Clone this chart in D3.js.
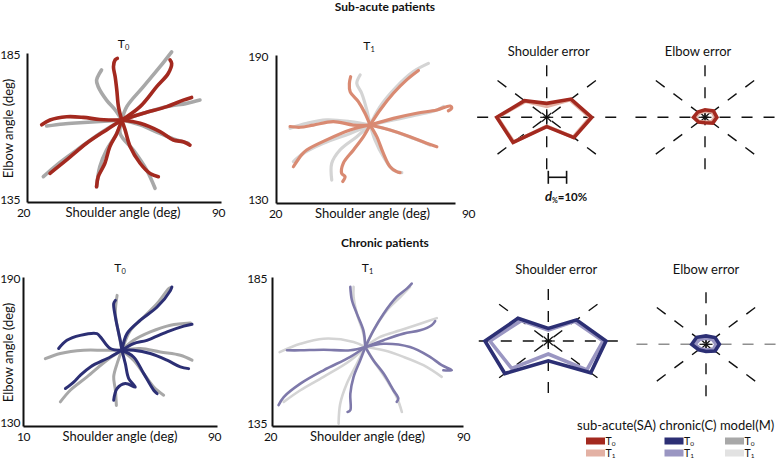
<!DOCTYPE html>
<html><head><meta charset="utf-8">
<script src="https://cdn.jsdelivr.net/npm/d3@7"></script>
<style>body{margin:0;background:#fff}svg{display:block}text{font-family:Lato,"Open Sans",sans-serif;fill:#111}</style>
</head><body><svg id="c" width="778" height="459"></svg>
<script>
// ---------- trajectory data: [shoulder angle (deg), elbow angle (deg)] ----------
const saT0Patient = [
 [[54.2,162.5],[53.0,167.0],[52.4,172.6],[51.8,177.1],[51.2,180.4],[51.8,182.7],[52.6,183.2]],
 [[54.2,162.5],[60.8,167.0],[66.8,173.7],[71.0,178.2],[72.2,181.5],[71.6,182.7]],
 [[54.2,162.5],[62.0,164.8],[70.4,167.0],[76.4,169.2],[79.4,170.1]],
 [[54.2,162.5],[60.8,161.4],[68.0,158.6],[72.8,155.8],[76.4,155.2],[78.8,154.1]],
 [[54.2,162.5],[55.4,159.2],[57.2,153.6],[60.8,148.0],[64.4,144.6],[67.4,143.5]],
 [[54.2,162.5],[52.4,158.0],[49.9,153.6],[48.1,148.0],[45.7,143.5],[45.1,140.1]],
 [[54.2,162.5],[48.7,159.2],[41.5,154.7],[34.3,149.1],[28.3,144.6]],
 [[54.2,162.5],[46.3,162.7],[40.3,163.4],[34.3,163.6],[28.3,162.5],[25.3,160.9]]
];
const saT0Model = [
 [[54.2,162.5],[51.8,165.9],[48.7,169.2],[45.7,173.7],[45.1,175.9],[46.9,179.3]],
 [[54.2,162.5],[56.0,167.0],[62.0,173.7],[68.0,180.4],[72.2,185.4]],
 [[54.2,162.5],[62.0,164.8],[70.4,167.0],[77.6,168.1],[82.4,169.2]],
 [[54.2,162.5],[60.8,160.9],[68.0,158.0],[74.0,155.8],[78.2,154.7]],
 [[54.2,162.5],[53.6,158.0],[58.4,152.4],[63.2,145.7],[66.2,139.6]],
 [[54.2,162.5],[52.4,158.0],[48.7,152.4],[46.3,146.9],[45.1,140.1]],
 [[54.2,162.5],[46.3,158.0],[37.9,152.4],[30.7,147.4],[25.9,143.5]],
 [[54.2,162.5],[46.3,162.0],[39.1,161.6],[33.1,161.2],[27.1,160.5]]
];
const saT1Patient = [
 [[56.8,161.6],[54.8,166.4],[52.2,171.1],[49.0,175.1],[48.7,178.5],[49.2,181.2]],
 [[56.8,161.6],[60.7,167.7],[65.9,174.5],[71.1,179.9],[75.7,183.7]],
 [[56.8,161.6],[65.9,164.3],[75.0,166.4],[82.9,167.7],[88.1,169.3],[88.7,168.4],[87.4,167.4]],
 [[56.8,161.6],[64.6,159.6],[72.4,156.9],[78.9,154.2],[82.9,152.8]],
 [[56.8,161.6],[59.4,156.9],[62.0,150.1],[64.6,144.7],[67.2,142.7],[68.5,142.3]],
 [[56.8,161.6],[54.2,156.9],[50.3,151.5],[46.3,146.1],[45.7,142.0],[47.0,140.7],[46.1,138.7]],
 [[56.8,161.6],[49.0,159.6],[39.8,155.6],[32.0,151.5],[30.0,149.5],[26.8,144.7]],
 [[56.8,161.6],[50.3,161.6],[42.4,163.0],[34.6,161.6],[29.4,160.7],[25.5,161.0]]
];
const saT1Model = [
 [[56.8,161.6],[55.5,167.7],[53.5,174.5],[51.6,178.5],[52.9,181.9]],
 [[56.8,161.6],[60.7,169.1],[67.2,177.2],[73.7,183.3],[79.6,186.6]],
 [[56.8,161.6],[65.9,163.7],[75.0,165.7],[82.9,167.7],[85.5,169.1]],
 [[56.8,161.6],[64.6,159.6],[73.7,156.2],[80.2,153.5]],
 [[56.8,161.6],[58.7,155.6],[62.0,148.8],[65.9,143.4],[69.2,142.3]],
 [[56.8,161.6],[51.6,156.9],[45.0,151.5],[41.8,146.1],[41.8,139.3]],
 [[56.8,161.6],[49.0,158.2],[38.5,154.2],[30.7,150.1],[26.8,146.8]],
 [[56.8,161.6],[49.0,163.0],[39.8,163.7],[32.0,162.3],[25.5,160.3]]
];
const cT0Patient = [
 [[50.8,160.5],[50.1,164.5],[49.5,167.2],[48.1,173.9],[47.4,179.3],[48.1,180.6]],
 [[50.8,160.5],[52.9,167.2],[58.4,172.6],[65.3,177.9],[70.8,184.6],[71.4,186.0]],
 [[50.8,160.5],[55.6,163.2],[61.1,164.5],[69.4,167.9],[76.3,170.2],[79.7,171.0]],
 [[50.8,160.5],[55.6,160.5],[62.5,159.2],[69.4,156.5],[74.9,153.8],[78.3,153.1]],
 [[50.8,160.5],[55.6,157.8],[59.8,151.1],[63.9,144.4],[65.3,143.0]],
 [[50.8,160.5],[52.2,155.1],[53.6,149.1],[56.3,145.7],[52.2,147.1],[48.8,145.1],[47.4,140.4]],
 [[50.8,160.5],[46.0,157.8],[37.8,153.8],[33.6,150.4],[30.9,147.7],[27.5,145.1]],
 [[50.8,160.5],[46.0,161.2],[41.9,165.9],[40.5,167.2],[33.6,166.5],[28.1,164.5],[24.7,161.2]]
];
const cT0Model = [
 [[50.8,160.5],[49.5,167.2],[48.1,175.2],[48.8,182.6]],
 [[50.8,160.5],[54.3,168.5],[59.8,173.9],[65.3,179.3],[70.1,185.3],[70.8,185.7]],
 [[50.8,160.5],[55.6,164.5],[62.5,167.9],[70.8,170.6],[79.0,171.5]],
 [[50.8,160.5],[58.4,161.2],[66.6,159.8],[74.9,158.5],[79.7,156.5]],
 [[50.8,160.5],[55.6,156.5],[59.8,151.1],[63.9,145.7],[68.0,142.4]],
 [[50.8,160.5],[48.8,155.1],[47.4,149.8],[48.1,144.4],[48.5,138.3]],
 [[50.8,160.5],[44.6,156.5],[36.4,149.8],[29.5,144.4],[25.4,139.7]],
 [[50.8,160.5],[43.3,160.5],[35.0,160.5],[25.4,159.2],[19.2,157.1]]
];
const cT1Patient = [
 [[54.2,161.5],[53.5,167.1],[51.1,172.7],[49.3,177.2],[48.7,181.7]],
 [[54.2,161.5],[57.2,167.1],[60.9,172.7],[65.7,178.3],[69.4,181.1],[71.2,182.8]],
 [[54.2,161.5],[60.9,163.8],[68.2,166.0],[74.3,167.1],[78.5,168.8],[79.8,170.2]],
 [[54.2,161.5],[60.9,162.6],[70.6,161.5],[77.9,158.2],[82.2,155.4],[85.9,153.7],[82.8,153.7]],
 [[54.2,161.5],[57.2,157.0],[60.9,152.6],[64.5,147.0],[66.3,144.2],[65.7,143.1]],
 [[54.2,161.5],[52.3,157.0],[49.9,151.5],[48.7,145.8],[48.7,140.3],[47.7,139.7]],
 [[54.2,161.5],[48.7,158.2],[38.9,153.7],[30.4,149.2],[24.3,144.7],[22.4,142.0]],
 [[54.2,161.5],[48.7,160.4],[38.9,160.6],[30.4,160.4],[25.5,160.4]]
];
const cT1Model = [
 [[54.2,161.5],[53.5,166.0],[51.1,172.7],[49.9,178.3],[49.9,181.7]],
 [[54.2,161.5],[57.2,167.1],[62.1,173.8],[67.0,178.3],[70.6,181.7]],
 [[54.2,161.5],[59.6,164.9],[67.0,167.1],[74.3,169.3],[80.4,171.2]],
 [[54.2,161.5],[60.9,160.4],[68.2,158.2],[75.5,155.4],[82.2,151.5]],
 [[54.2,161.5],[57.2,157.0],[62.1,150.3],[65.7,144.7],[67.6,139.7]],
 [[54.2,161.5],[51.1,155.9],[47.4,149.2],[45.0,142.5],[44.4,135.8]],
 [[54.2,161.5],[48.7,157.0],[38.9,151.5],[30.4,147.0],[24.3,143.1]],
 [[54.2,161.5],[49.9,163.2],[38.9,164.3],[30.4,162.6],[22.8,159.8]]
];
// axis tick labels (domain ends)
const saT0XTicks = [20, 90], saT0YTicks = [135, 185];
const saT1XTicks = [20, 90], saT1YTicks = [130, 190];
const cT0XTicks = [10, 90],  cT0YTicks = [130, 190];
const cT1XTicks = [20, 90],  cT1YTicks = [135, 185];

// ---------- error polar plots (% error per movement direction) ----------
const radarAngles = [0, 45, 90, 135, 180, 225, 270, 315];
const saShoulderT0 = [24.6, 18.8, 10.2, 17.2, 27.3, 26.0, 6.8, 21.0];
const saShoulderT1 = [23.8, 18.0, 8.0, 16.5, 27.0, 25.5, 6.5, 20.5];
const saElbowT0 = [6.5, 6.5, 5.5, 5.5, 6.3, 5.0, 4.0, 6.0];
const saElbowT1 = [5.5, 5.5, 4.5, 4.5, 5.5, 4.5, 3.5, 5.0];
const cShoulderT0 = [31.5, 21.8, 9.2, 23.4, 34.6, 33.6, 14.5, 32.8];
const cShoulderT1 = [30.0, 20.3, 8.0, 21.0, 31.9, 28.3, 9.5, 29.8];
const cElbowT0 = [7.3, 7.0, 6.1, 7.2, 7.8, 5.6, 5.3, 7.0];
const cElbowT1 = [5.5, 5.0, 4.5, 5.0, 6.0, 4.5, 4.0, 5.5];
const spokeLength = 38, scaleBarValue = 10;

// legend
const legendGroups = ["sub-acute(SA)", "chronic(C)", "model(M)"];
const legendSessions = ["0", "1"];

const C = {
  saT0: "#a3291f", saT1: "#d98a72", saT1L: "#e3b1a4",
  cT0: "#2c2f74", cT1: "#7e79aa", cT1L: "#9a96c2",
  mT0: "#a8a8a8", mT1: "#d4d4d4", mT1L: "#e2e2e2"
};

const svg = d3.select("#c");

function tTitle(g, x, y, sub, size, subDy) {
  const t = g.append("text").attr("x", x).attr("y", y).attr("text-anchor", "middle").style("font-size", size + "px");
  t.append("tspan").text("T");
  t.append("tspan").attr("dy", subDy).style("font-size", (size * 0.62) + "px").text(sub);
  return t;
}

const panels = [
  {pat: saT0Patient, mod: saT0Model, xt: saT0XTicks, yt: saT0YTicks, box: [27, 53, 221, 202], pc: C.saT0, mc: C.mT0, sw: 3.6, sub: "0", ytitle: true, xdx: [-4, -3], ydy: [-3, 1], tdx: -1, yx: -7},
  {pat: saT1Patient, mod: saT1Model, xt: saT1XTicks, yt: saT1YTicks, box: [276, 55, 455, 203], pc: C.saT1, mc: C.mT1, sw: 3.2, sub: "1", ytitle: false, xdx: [-1, 13], ydy: [-4, 1], tdx: 7, yx: -8},
  {pat: cT0Patient, mod: cT0Model, xt: cT0XTicks, yt: cT0YTicks, box: [23, 277, 217, 426], pc: C.cT0, mc: C.mT0, sw: 3.0, sub: "0", ytitle: true, xdx: [0, -3], ydy: [-4, 1], tdx: 0, yx: -3},
  {pat: cT1Patient, mod: cT1Model, xt: cT1XTicks, yt: cT1YTicks, box: [272, 277, 463, 426], pc: C.cT1, mc: C.mT1, sw: 2.6, sub: "1", ytitle: false, xdx: [-2, 0], ydy: [-3, 1], tdx: 0, yx: -5}
];

panels.forEach(p => {
  const [l, t, r, b] = p.box;
  const x = d3.scaleLinear().domain(p.xt).range([l, r]);
  const y = d3.scaleLinear().domain(p.yt).range([b, t]);
  const g = svg.append("g");
  const line = d3.line().x(d => x(d[0])).y(d => y(d[1])).curve(d3.curveCatmullRom.alpha(0.5));
  [[p.mod, p.mc], [p.pat, p.pc]].forEach(([set, col]) => {
    g.append("g").selectAll("path").data(set).join("path")
      .attr("d", line).attr("fill", "none").attr("stroke", col)
      .attr("stroke-width", p.sw).attr("stroke-linecap", "round").attr("stroke-linejoin", "round");
  });
  const xa = g.append("g").attr("transform", `translate(0,${b})`)
    .call(d3.axisBottom(x).tickValues(p.xt).tickSize(0).tickSizeOuter(0).tickFormat(d3.format("d")));
  const ya = g.append("g").attr("transform", `translate(${l},0)`)
    .call(d3.axisLeft(y).tickValues(p.yt).tickSize(0).tickSizeOuter(0).tickFormat(d3.format("d")));
  [xa, ya].forEach(a => { a.select(".domain").attr("stroke", "#111").attr("stroke-width", 2); a.selectAll("text").style("font-size", "12px").style("letter-spacing", "-0.4px").attr("font-family", null).attr("fill", "#111"); });
  xa.selectAll(".tick text").attr("y", 15).attr("dy", 0).attr("dx", (d, i) => p.xdx[i]);
  ya.selectAll(".tick text").attr("x", p.yx).attr("dy", (d, i) => p.ydy[i] + 4.3);
  g.append("text").attr("x", (l + r) / 2 + p.tdx).attr("y", b + 15).attr("text-anchor", "middle").style("font-size", "13px").text("Shoulder angle (deg)");
  if (p.ytitle) {
    g.append("text").attr("transform", `translate(13,${(t + b) / 2 + 1}) rotate(-90)`).attr("text-anchor", "middle").style("font-size", "13px").text("Elbow angle (deg)");
  }
  tTitle(g, (l + r) / 2 + p.tdx / 2, t - 5, p.sub, 12, 2);
});

// ---------- polar error plots ----------
const rx = d3.scaleLinear().domain([0, 10]).range([0, 18.3]);
const ry = d3.scaleLinear().domain([0, 10]).range([0, 13.7]);
function radar(cx, cy, series, title, titleDx, titleY, hGray) {
  const g = svg.append("g");
  const pt = (a, v) => [cx + rx(v) * Math.cos(a * Math.PI / 180), cy - ry(v) * Math.sin(a * Math.PI / 180)];
  radarAngles.forEach(a => {
    const [ex, ey] = pt(a, spokeLength);
    const horiz = (a === 0 || a === 180);
    g.append("line").attr("x1", ex).attr("y1", ey).attr("x2", cx).attr("y2", cy)
      .attr("stroke", hGray && horiz ? "#8f8f8f" : "#111").attr("stroke-width", 1.4).attr("stroke-dasharray", "11,11");
    const ang = a * Math.PI / 180;
    g.append("line").attr("x1", cx).attr("y1", cy).attr("x2", cx + 6.5 * Math.cos(ang)).attr("y2", cy - 6 * Math.sin(ang))
      .attr("stroke", "#111").attr("stroke-width", 1.2);
  });
  const poly = d3.line().curve(d3.curveLinearClosed);
  series.forEach(s => {
    g.append("path").attr("d", poly(s.vals.map((v, i) => pt(radarAngles[i], v))))
      .attr("fill", "none").attr("stroke", s.color).attr("stroke-width", 3.6).attr("stroke-linejoin", "miter");
  });
  g.append("text").attr("x", cx + titleDx).attr("y", titleY).attr("text-anchor", "middle").style("font-size", "13px").text(title);
  return pt;
}
radar(546.7, 117.3, [{vals: saShoulderT1, color: C.saT1L}, {vals: saShoulderT0, color: C.saT0}], "Shoulder error", 2, 56, false);
radar(705, 117.3, [{vals: saElbowT1, color: C.saT1L}, {vals: saElbowT0, color: C.saT0}], "Elbow error", -7, 56, false);
radar(548.3, 341, [{vals: cShoulderT1, color: C.cT1L}, {vals: cShoulderT0, color: C.cT0}], "Shoulder error", 8, 274, false);
radar(706, 344.3, [{vals: cElbowT1, color: C.cT1L}, {vals: cElbowT0, color: C.cT0}], "Elbow error", 0, 274, true);

// scale bar d% = 10%
{
  const x0 = 548.3, yb = 177.3, x1 = x0 + rx(scaleBarValue);
  const g = svg.append("g").attr("stroke", "#111").attr("stroke-width", 1.6);
  g.append("line").attr("x1", x0).attr("x2", x1).attr("y1", yb).attr("y2", yb);
  g.append("line").attr("x1", x0).attr("x2", x0).attr("y1", yb - 6.5).attr("y2", yb + 6.5);
  g.append("line").attr("x1", x1).attr("x2", x1).attr("y1", yb - 6.5).attr("y2", yb + 6.5);
  const t = svg.append("text").attr("x", 545).attr("y", 201).style("font-size", "11.5px").style("font-weight", "bold");
  t.append("tspan").style("font-style", "italic").style("font-size", "13px").text("d");
  t.append("tspan").attr("dy", 1.5).style("font-size", "7px").text("%");
  t.append("tspan").attr("dy", -1.5).text("=" + scaleBarValue + "%");
}

// section titles
svg.append("text").attr("x", 385).attr("y", 11).attr("text-anchor", "middle").style("font-size", "12px").style("font-weight", "bold").text("Sub-acute patients");
svg.append("text").attr("x", 385).attr("y", 247).attr("text-anchor", "middle").style("font-size", "12px").style("font-weight", "bold").text("Chronic patients");

// legend
{
  svg.append("text").attr("x", 577).attr("y", 430).style("font-size", "13px").text(legendGroups.join(" "));
  const cols = [[C.saT0, C.saT1L], [C.cT0, C.cT1L], [C.mT0, C.mT1L]];
  const xs = [586, 664.5, 725];
  cols.forEach((cc, gi) => {
    legendSessions.forEach((s, si) => {
      const yy = 437.5 + si * 12;
      svg.append("rect").attr("x", xs[gi]).attr("y", yy).attr("width", 19).attr("height", 7).attr("fill", cc[si]);
      tTitle(svg, xs[gi] + 24.5, yy + 7, s, 10.5, 1);
    });
  });
}
</script></body></html>
